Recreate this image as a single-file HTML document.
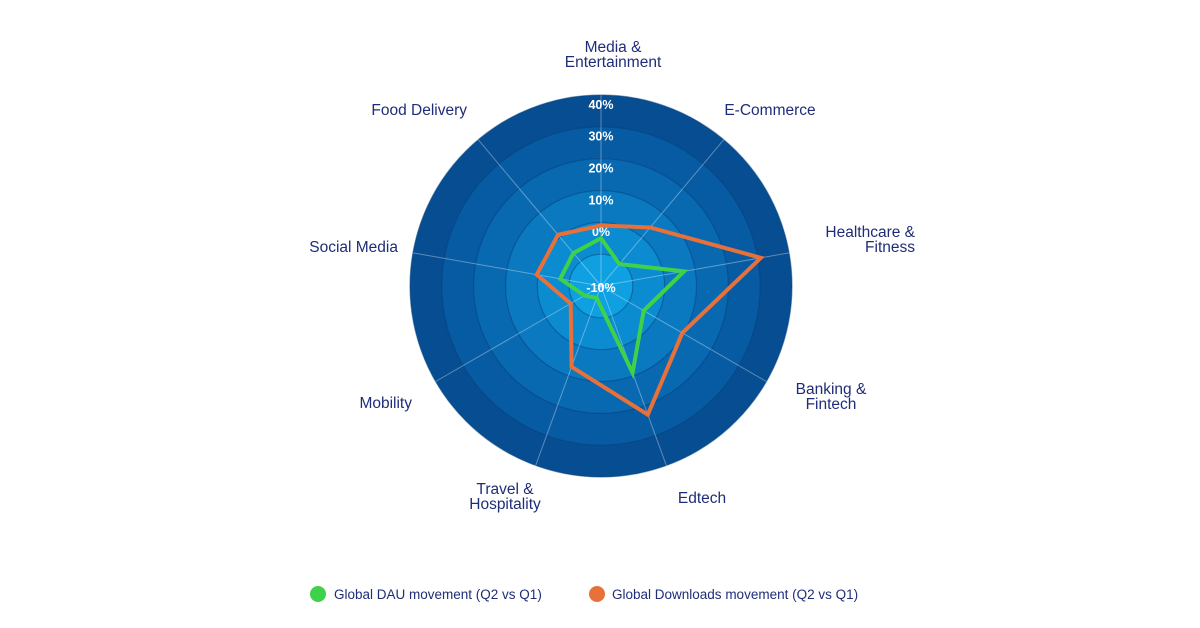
<!DOCTYPE html>
<html><head><meta charset="utf-8"><style>
html,body{margin:0;padding:0;background:#fff;}
svg{display:block;font-family:"Liberation Sans",sans-serif;}
</style></head><body>
<svg id="chart" width="1200" height="628" viewBox="0 0 1200 628">
<g id="rings"></g>
<g id="spokes"></g>
<g id="ticks"></g>
<g id="series"></g>
<g id="cats"></g>
<g>
 <g>
  <circle cx="318" cy="594" r="8" fill="#3fd14a"/>
  <text x="334" y="599" font-size="13.5" fill="#1f2d78">Global DAU movement (Q2 vs Q1)</text>
 </g>
 <g>
  <circle cx="597" cy="594" r="8" fill="#e8703a"/>
  <text x="612" y="599" font-size="13.5" fill="#1f2d78">Global Downloads movement (Q2 vs Q1)</text>
 </g>
</g>
</svg>
<script>
const categories = ["Media & Entertainment","E-Commerce","Healthcare & Fitness","Banking & Fintech","Edtech","Travel & Hospitality","Mobility","Social Media","Food Delivery"];
const dauValues = [5, -1, 16.5, 5.5, 19, -6, -4, 3, 3.5];
const downloadValues = [9, 14, 41, 19.5, 33, 17, 1, 10.5, 11];
const tickValues = [-10, 0, 10, 20, 30, 40, 50];
const tickLabels = ["-10%","0%","10%","20%","30%","40%","50%"];

const NS="http://www.w3.org/2000/svg";
const cx=601, cy=286, R=191, vMin=-10, vMax=50;
function rScale(v){return (v-vMin)/(vMax-vMin)*R;}
function angle(i){return i*2*Math.PI/categories.length;}
function pt(i,v){const r=rScale(v),a=angle(i);return [cx+r*Math.sin(a), cy-r*Math.cos(a)];}
function mk(tag,attrs,parent){const e=document.createElementNS(NS,tag);for(const k in attrs)e.setAttribute(k,attrs[k]);parent.appendChild(e);return e;}

const ringColors=["#064d92","#075ba2","#0869b1","#0a79c0","#0b8bd0","#0fa0e2","#1ab6f5"];
const rings=document.getElementById('rings');
const ringVals=tickValues.slice(1).reverse();
ringVals.forEach((v,i)=>{
  const c=mk('circle',{cx:cx,cy:cy,r:rScale(v),fill:ringColors[i],stroke:"#053f7c","stroke-width":1.2,"stroke-opacity":0.5},rings);
  
  
});
const spokes=document.getElementById('spokes');
categories.forEach((c,i)=>{
  const [x,y]=pt(i,vMax);
  const l=mk('line',{x1:cx,y1:cy,x2:x,y2:y,stroke:"#ffffff","stroke-opacity":0.35,"stroke-width":1},spokes);
  
  
});
const ticks=document.getElementById('ticks');
tickValues.forEach((v,i)=>{
  const t=mk('text',{x:cx,y:cy-rScale(v)+(v===-10?6:-18),"text-anchor":"middle","font-size":"12.5","font-weight":"bold",fill:"#ffffff"},ticks);
  t.textContent=tickLabels[i];
  
  
});
const series=document.getElementById('series');
function poly(vals,color,name){
  const p=mk('polygon',{points:vals.map((v,i)=>pt(i,v).join(',')).join(' '),fill:"none",stroke:color,"stroke-width":4,"stroke-linejoin":"miter"},series);
  
  
}
poly(downloadValues,"#e8703a","downloads-series");
poly(dauValues,"#3fd14a","dau-series");

const labelPos=[
 {x:613,y:[52,67],a:"middle"},
 {x:770,y:[115],a:"middle"},
 {x:915,y:[237,252],a:"end"},
 {x:831,y:[394,409],a:"middle"},
 {x:702,y:[503],a:"middle"},
 {x:505,y:[494,509],a:"middle"},
 {x:412,y:[408],a:"end"},
 {x:398,y:[252],a:"end"},
 {x:467,y:[115],a:"end"}];
const lines=[["Media &","Entertainment"],["E-Commerce"],["Healthcare &","Fitness"],["Banking &","Fintech"],["Edtech"],["Travel &","Hospitality"],["Mobility"],["Social Media"],["Food Delivery"]];
const cats=document.getElementById('cats');
categories.forEach((c,i)=>{
  const p=labelPos[i];
  const t=mk('text',{x:p.x,"text-anchor":p.a,"font-size":"15.5",fill:"#1f2d78"},cats);
  
  
  lines[i].forEach((s,j)=>{const ts=mk('tspan',{x:p.x,y:p.y[j]},t);ts.textContent=s;});
});
</script>
</body></html>
